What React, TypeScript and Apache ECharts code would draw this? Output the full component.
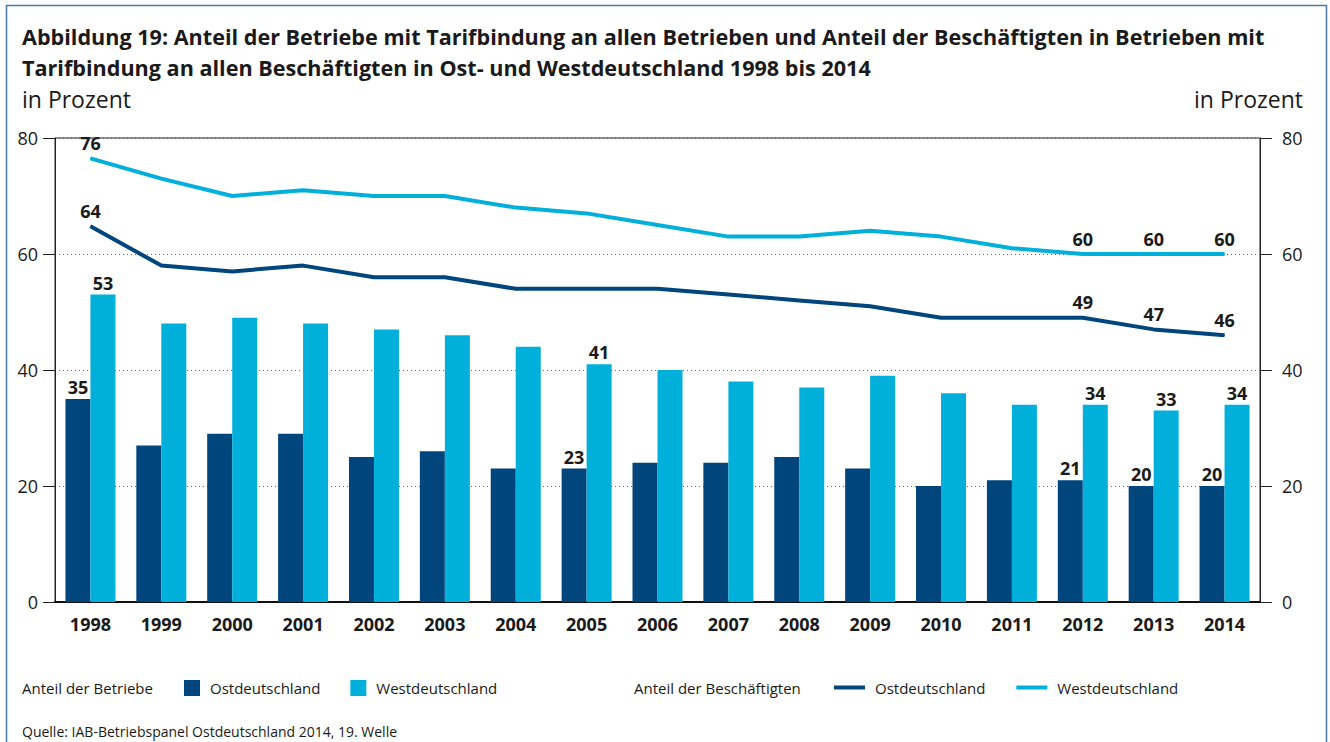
import React, { useEffect, useRef } from "react";
import * as echarts from "echarts";

const years = ["1998", "1999", "2000", "2001", "2002", "2003", "2004", "2005", "2006", "2007", "2008", "2009", "2010", "2011", "2012", "2013", "2014"];
const betriebeOst = [35, 27, 29, 29, 25, 26, 23, 23, 24, 24, 25, 23, 20, 21, 21, 20, 20];
const betriebeWest = [53, 48, 49, 48, 47, 46, 44, 41, 40, 38, 37, 39, 36, 34, 34, 33, 34];
const beschOst = [64.8, 58, 57, 58, 56, 56, 54, 54, 54, 53, 52, 51, 49, 49, 49, 47, 46];
const beschWest = [76.5, 73, 70, 71, 70, 70, 68, 67, 65, 63, 63, 64, 63, 61, 60, 60, 60];
const barLabelYears = ["1998", "2005", "2012", "2013", "2014"];
const lineLabelYears = ["1998", "2012", "2013", "2014"];

const DARK = "#00457c";
const LIGHT = "#00b0db";
const FONT = "'Open Sans', 'Noto Sans', sans-serif";
const TEXT = "#1a1a1a";

const titleText =
  "Abbildung 19: Anteil der Betriebe mit Tarifbindung an allen Betrieben und Anteil der Beschäftigten in Betrieben mit\nTarifbindung an allen Beschäftigten in Ost- und Westdeutschland 1998 bis 2014";

export default function App() {
  const ref = useRef<HTMLDivElement>(null);
  useEffect(() => {
    document.body.style.margin = "0";
    if (!ref.current) return;
    const chart = echarts.init(ref.current, null, { renderer: "svg" });
    const labelFmt = (list: string[]) => (p: any) =>
      list.includes(p.name) ? String(Math.floor(p.value)) : "";
    const labelStyle = {
      fontFamily: FONT,
      fontWeight: "bold" as const,
      fontSize: 18,
      color: TEXT,
    };
    const yAxisBase = {
      type: "value" as const,
      min: 0,
      max: 80,
      interval: 20,
      axisLine: { show: true, lineStyle: { color: "#222", width: 1 } },
      axisTick: { show: true, length: 12, lineStyle: { color: "#222", width: 1 } },
      splitLine: { show: true, lineStyle: { color: "#666", type: [1, 3] as any, width: 1 } },
      axisLabel: { fontFamily: FONT, fontSize: 18, color: TEXT, margin: 17 },
    };
    chart.setOption({
      animation: false,
      backgroundColor: "#fff",
      title: {
        text: titleText,
        left: 22,
        top: 21,
        padding: 0,
        textStyle: { fontFamily: FONT, fontWeight: "bold", fontSize: 21.6, lineHeight: 31, color: TEXT },
      },
      grid: {
        left: 55,
        right: 70,
        top: 138,
        bottom: 140,
        show: true,
        borderColor: "#222",
        borderWidth: 1,
        containLabel: false,
      },
      xAxis: {
        type: "category",
        data: years,
        boundaryGap: true,
        axisTick: { show: false },
        axisLine: { show: true, lineStyle: { color: "#111", width: 2 } },
        axisLabel: { fontFamily: FONT, fontWeight: "bold", fontSize: 18, color: TEXT, margin: 13 },
      },
      yAxis: [
        { ...yAxisBase, position: "left" },
        { ...yAxisBase, position: "right", axisLabel: { ...yAxisBase.axisLabel, margin: 22 } },
      ],
      legend: [
        {
          left: 184,
          top: 680,
          padding: 0,
          icon: "rect",
          itemWidth: 16,
          itemHeight: 16,
          itemGap: 30,
          selectedMode: false,
          data: ["Betriebe Ostdeutschland", "Betriebe Westdeutschland"],
          formatter: (n: string) => n.replace("Betriebe ", ""),
          textStyle: { fontFamily: FONT, fontSize: 15, color: TEXT, padding: [0, 0, 0, 5] },
        },
        {
          left: 834,
          top: 680,
          padding: 0,
          icon: "rect",
          itemWidth: 31,
          itemHeight: 4,
          itemGap: 31,
          selectedMode: false,
          data: ["Beschäftigte Ostdeutschland", "Beschäftigte Westdeutschland"],
          formatter: (n: string) => n.replace("Beschäftigte ", ""),
          textStyle: { fontFamily: FONT, fontSize: 15, color: TEXT, padding: [0, 0, 0, 5] },
        },
      ],
      graphic: [
        {
          type: "rect",
          shape: { x: 6.5, y: 5.5, width: 1320, height: 800 },
          style: { fill: "none", stroke: "#4a79ad", lineWidth: 1.5 },
          silent: true,
        },
        {
          type: "text",
          left: 22,
          top: 87,
          style: { text: "in Prozent", fontFamily: FONT, fontSize: 23, fill: TEXT },
        },
        {
          type: "text",
          right: 27,
          top: 87,
          style: { text: "in Prozent", fontFamily: FONT, fontSize: 23, fill: TEXT },
        },
        {
          type: "text",
          left: 22,
          top: 680,
          style: { text: "Anteil der Betriebe", fontFamily: FONT, fontSize: 15, fill: TEXT },
        },
        {
          type: "text",
          left: 634,
          top: 680,
          style: { text: "Anteil der Beschäftigten", fontFamily: FONT, fontSize: 15, fill: TEXT },
        },
        {
          type: "text",
          left: 22,
          top: 724,
          style: {
            text: "Quelle: IAB-Betriebspanel Ostdeutschland 2014, 19. Welle",
            fontFamily: FONT,
            fontSize: 14,
            fill: TEXT,
          },
        },
      ],
      series: [
        {
          name: "Betriebe Ostdeutschland",
          type: "bar",
          data: betriebeOst,
          barWidth: 25,
          barGap: "0%",
          itemStyle: { color: DARK },
          label: { show: true, position: "top", distance: 3, formatter: labelFmt(barLabelYears), ...labelStyle },
        },
        {
          name: "Betriebe Westdeutschland",
          type: "bar",
          data: betriebeWest,
          barWidth: 25,
          barGap: "0%",
          itemStyle: { color: LIGHT },
          label: { show: true, position: "top", distance: 3, formatter: labelFmt(barLabelYears), ...labelStyle },
        },
        {
          name: "Beschäftigte Ostdeutschland",
          type: "line",
          data: beschOst,
          symbol: "circle",
          symbolSize: 1,
          itemStyle: { color: DARK },
          lineStyle: { color: DARK, width: 4 },
          label: { show: true, position: "top", distance: 6, formatter: labelFmt(lineLabelYears), ...labelStyle },
        },
        {
          name: "Beschäftigte Westdeutschland",
          type: "line",
          data: beschWest,
          symbol: "circle",
          symbolSize: 1,
          itemStyle: { color: LIGHT },
          lineStyle: { color: LIGHT, width: 4 },
          label: { show: true, position: "top", distance: 6, formatter: labelFmt(lineLabelYears), ...labelStyle },
        },
      ],
    });
    return () => chart.dispose();
  }, []);
  return <div ref={ref} style={{ width: 1330, height: 742 }} />;
}
